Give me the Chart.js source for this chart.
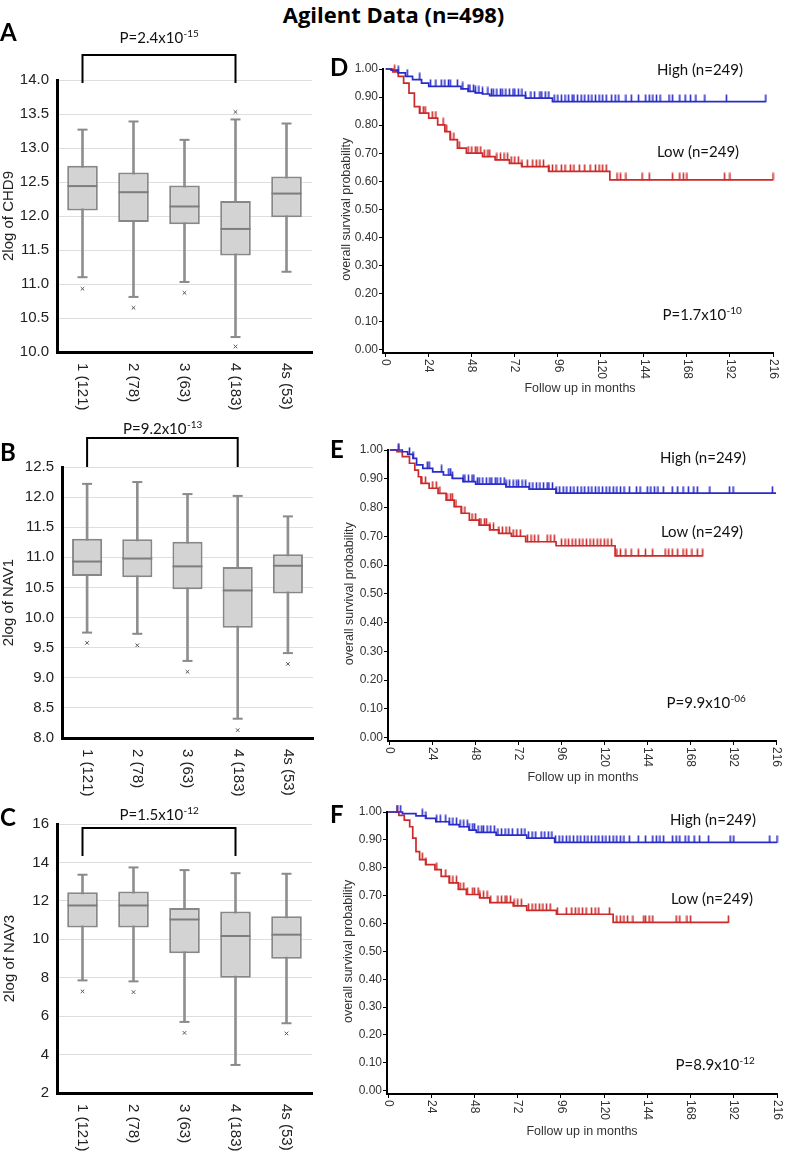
<!DOCTYPE html>
<html>
<head>
<meta charset="utf-8">
<script src="https://cdn.jsdelivr.net/npm/chart.js"></script>
<style>
body { margin:0; background:#fff; }
#page { position:relative; width:787px; height:1157px; overflow:hidden; background:#fff; }
canvas { position:absolute; }
.lbl { position:absolute; font-family:Lato, "Open Sans", sans-serif; font-weight:bold; color:#000; line-height:1; }
</style>
</head>
<body>
<div id="page">
  <div class="lbl" style="left:0;width:787px;top:3px;text-align:center;font-size:22px;font-family:'Open Sans',Lato,sans-serif;">Agilent Data (n=498)</div>
  <canvas id="boxA" width="330" height="420" style="left:0;top:0"></canvas>
  <canvas id="boxB" width="330" height="400" style="left:0;top:400px"></canvas>
  <canvas id="boxC" width="330" height="387" style="left:0;top:770px"></canvas>
  <canvas id="kmD" width="457" height="355" style="left:330px;top:40px"></canvas>
  <canvas id="kmE" width="457" height="375" style="left:330px;top:420px"></canvas>
  <canvas id="kmF" width="457" height="367" style="left:330px;top:790px"></canvas>
  <div class="lbl" style="left:0;top:20px;font-size:24px;">A</div>
  <div class="lbl" style="left:0;top:440px;font-size:24px;">B</div>
  <div class="lbl" style="left:0;top:805px;font-size:24px;">C</div>
  <div class="lbl" style="left:330px;top:55px;font-size:24px;">D</div>
  <div class="lbl" style="left:330px;top:437px;font-size:24px;">E</div>
  <div class="lbl" style="left:330px;top:802px;font-size:24px;">F</div>
</div>
<script>
// stages
const stageLabels = ['1 (121)', '2 (78)', '3 (63)', '4 (183)', '4s (53)'];

// CHD9
const chd9Low  = [11.10, 10.81, 11.03, 10.22, 11.18];
const chd9Q1   = [12.08, 11.91, 11.88, 11.42, 11.98];
const chd9Med  = [12.44, 12.35, 12.14, 11.81, 12.33];
const chd9Q3   = [12.74, 12.64, 12.45, 12.22, 12.58];
const chd9High = [13.27, 13.39, 13.12, 13.42, 13.36];
const chd9Out  = [[0, 10.93], [1, 10.65], [2, 10.87], [3, 10.08], [3, 13.53]];
const chd9Ticks = [10.0, 10.5, 11.0, 11.5, 12.0, 12.5, 13.0, 13.5, 14.0];

// NAV1
const nav1Low  = [9.75, 9.73, 9.28, 8.32, 9.41];
const nav1Q1   = [10.69, 10.67, 10.47, 9.83, 10.40];
const nav1Med  = [10.93, 10.98, 10.85, 10.45, 10.86];
const nav1Q3   = [11.31, 11.30, 11.26, 10.84, 11.05];
const nav1High = [12.22, 12.25, 12.05, 12.02, 11.68];
const nav1Out  = [[0, 9.58], [1, 9.54], [2, 9.10], [3, 8.13], [4, 9.23]];
const nav1Ticks = [8.0, 8.5, 9.0, 9.5, 10.0, 10.5, 11.0, 11.5, 12.0, 12.5];

// NAV3
const nav3Low  = [7.86, 7.81, 5.70, 3.46, 5.63];
const nav3Q1   = [10.61, 10.61, 9.27, 8.00, 8.99];
const nav3Med  = [11.76, 11.76, 11.03, 10.17, 10.24];
const nav3Q3   = [12.45, 12.49, 11.63, 11.44, 11.20];
const nav3High = [13.36, 13.74, 13.60, 13.44, 13.41];
const nav3Out  = [[0, 7.29], [1, 7.25], [2, 5.13], [4, 5.10]];
const nav3Ticks = [2, 4, 6, 8, 10, 12, 14, 16];

// survival axes
const kmMonths = [0, 24, 48, 72, 96, 120, 144, 168, 192, 216];
const kmProb = [0, 0.1, 0.2, 0.3, 0.4, 0.5, 0.6, 0.7, 0.8, 0.9, 1.0];

// D (CHD9) : [month, survival]
const dHighSteps = [[0,1.0],[3,0.996],[7,0.986],[11,0.974],[15,0.962],[20,0.95],[24,0.938],[42,0.929],[46,0.92],[50,0.915],[54,0.911],[58,0.905],[78,0.896],[93,0.884]];
const dHighEnd = 212;
const dHighCens = [7,12,19,25,28,31,33,35,36,40,43,46,47,49,50,52,54,57,59,60,62,64,65,67,69,71,72,74,76,78,81,83,86,87,89,91,94,96,98,100,102,104,105,107,109,111,113,115,117,119,121,123,126,128,130,134,137,141,145,147,149,151,153,158,160,164,167,170,173,178,190,212];
const dLowSteps = [[0,1.0],[4,0.99],[7,0.974],[10,0.95],[13,0.914],[16,0.866],[19,0.843],[24,0.825],[29,0.801],[33,0.777],[36,0.748],[40,0.718],[45,0.70],[54,0.688],[61,0.676],[69,0.664],[76,0.652],[91,0.635],[125,0.605]];
const dLowEnd = 216;
const dLowCens = [5,19,21,22,26,28,32,34,36,38,41,46,48,50,51,53,55,57,58,62,64,66,68,70,72,74,76,79,82,84,86,88,91,93,95,98,100,103,105,108,111,114,117,119,121,123,129,131,134,143,147,160,164,166,168,189,192,216];

// E (NAV1)
const eHighSteps = [[0,1.0],[7,0.994],[10,0.985],[13,0.971],[15,0.948],[18.5,0.936],[24,0.924],[30,0.913],[35,0.901],[41,0.89],[48,0.881],[65,0.872],[78,0.864],[93,0.85]];
const eHighEnd = 216;
const eHighCens = [5,11,13,21,22,29,33,34,35,41,42,44,46,47,49,50,52,54,56,57,59,60,62,64,65,67,69,71,72,74,76,78,80,82,84,86,88,89,91,93,95,97,99,101,103,105,107,109,111,113,115,117,119,121,123,125,127,129,131,134,138,140,144,146,148,150,153,158,161,164,167,170,172,179,190,192,214];
const eLowSteps = [[0,1.0],[4,0.994],[7,0.977],[11,0.954],[14,0.93],[16,0.907],[17.5,0.884],[22,0.867],[27,0.849],[31.5,0.826],[36,0.803],[40,0.78],[44.5,0.756],[50,0.739],[56,0.722],[61,0.71],[68,0.70],[76,0.681],[93,0.667],[126,0.632]];
const eLowEnd = 175;
const eLowCens = [5,18,20,24,26,28,32,34,35,37,40,42,46,48,50,51,53,54,56,58,61,63,65,67,69,71,73,77,79,81,83,88,90,92,96,98,100,102,104,106,108,110,112,114,116,118,120,122,124,127,129,132,135,139,143,147,154,156,158,161,164,166,169,172,175];

// F (NAV3)
const fHighSteps = [[0,1.0],[8,0.994],[15.5,0.986],[21,0.977],[26.5,0.965],[34,0.955],[39.5,0.947],[45,0.935],[49,0.927],[60,0.917],[77,0.906],[92.5,0.891]];
const fHighEnd = 216;
const fHighCens = [5,7,19,21,27,29,32,34,36,38,40,42,44,45,47,48,50,52,53,55,57,59,61,63,65,67,69,72,74,76,78,80,82,85,87,89,91,93,95,97,99,101,103,105,107,109,111,113,115,117,119,121,123,125,127,129,131,134,139,143,147,149,151,153,158,160,162,165,167,170,173,178,190,192,212,216];
const fLowSteps = [[0,1.0],[6,0.988],[9,0.971],[12,0.947],[13.7,0.906],[15.5,0.858],[17.5,0.829],[21,0.811],[26,0.793],[29.5,0.769],[34,0.746],[39,0.722],[43.5,0.704],[51,0.692],[56.5,0.675],[69.5,0.663],[77,0.647],[93.5,0.633],[125,0.604]];
const fLowEnd = 189;
const fLowCens = [5,19,21,27,32,34,36,38,40,42,44,47,48,50,51,53,55,57,61,63,65,66,68,70,72,74,78,80,82,84,86,88,90,94,99,102,104,106,108,110,113,115,117,123,127,129,131,133,136,142,143,145,147,160,162,166,168,189];

const AXIS_FONT = '"Liberation Sans", Arial, sans-serif';
const NOTE_FONT = 'Lato, "Open Sans", sans-serif';

function drawP(ctx, base, exp, cx, y, size) {
  ctx.font = size + 'px ' + NOTE_FONT;
  const w1 = ctx.measureText(base).width;
  ctx.font = Math.round(size * 0.68) + 'px ' + NOTE_FONT;
  const w2 = ctx.measureText(exp).width;
  const x0 = cx - (w1 + w2) / 2;
  ctx.textAlign = 'left';
  ctx.textBaseline = 'alphabetic';
  ctx.font = size + 'px ' + NOTE_FONT;
  ctx.fillText(base, x0, y);
  ctx.font = Math.round(size * 0.68) + 'px ' + NOTE_FONT;
  ctx.fillText(exp, x0 + w1 + 0.5, y - size * 0.42);
}

const boxExtras = {
  id: 'boxExtras',
  afterDraw(chart, args, o) {
    const {ctx, chartArea: a, scales: {x}} = chart;
    ctx.save();
    ctx.fillStyle = '#222';
    ctx.font = '15px ' + AXIS_FONT;
    stageLabels.forEach((lab, i) => {
      ctx.save();
      ctx.translate(x.getPixelForValue(i), a.bottom + 11);
      ctx.rotate(Math.PI / 2);
      ctx.textAlign = 'left';
      ctx.textBaseline = 'middle';
      ctx.fillText(lab, 0, 0);
      ctx.restore();
    });
    ctx.save();
    ctx.translate(o.titleX, (a.top + a.bottom) / 2);
    ctx.rotate(-Math.PI / 2);
    ctx.textAlign = 'center';
    ctx.textBaseline = 'middle';
    ctx.fillText(o.title, 0, 0);
    ctx.restore();
    // bracket 1 vs 4
    const x1 = x.getPixelForValue(0), x2 = x.getPixelForValue(3);
    const bt = a.top + o.brTop, bb = a.top + o.brBot;
    ctx.strokeStyle = '#000';
    ctx.lineWidth = 2;
    ctx.beginPath();
    ctx.moveTo(x1, bb); ctx.lineTo(x1, bt); ctx.lineTo(x2, bt); ctx.lineTo(x2, bb);
    ctx.stroke();
    ctx.fillStyle = '#111';
    drawP(ctx, o.p, o.exp, (x1 + x2) / 2, bt - o.pGap, 15);
    ctx.restore();
  }
};

function boxChart(id, o) {
  const cap = {type: 'line', showLine: false, pointStyle: 'line', pointRadius: 5, pointHoverRadius: 5,
               pointBorderWidth: 2, pointBorderColor: '#8a8a8a', borderColor: '#8a8a8a'};
  new Chart(document.getElementById(id), {
    type: 'bar',
    data: {
      labels: stageLabels,
      datasets: [
        {type: 'line', data: o.med, showLine: false, pointStyle: 'line', pointRadius: 15, pointHoverRadius: 15,
         pointBorderWidth: 2, pointBorderColor: '#7d7d7d', borderColor: '#7d7d7d'},
        {type: 'line', data: o.out.map(p => ({x: stageLabels[p[0]], y: p[1]})), showLine: false,
         pointStyle: 'crossRot', pointRadius: 2.5, pointBorderWidth: 1, pointBorderColor: '#555', borderColor: '#555'},
        Object.assign({data: o.high}, cap),
        Object.assign({data: o.low}, cap),
        {type: 'bar', data: o.q1.map((v, i) => [v, o.q3[i]]), backgroundColor: '#d3d3d3', borderColor: '#878787',
         borderWidth: 2, borderSkipped: false, barPercentage: 0.6, categoryPercentage: 1, grouped: false},
        {type: 'bar', data: o.low.map((v, i) => [v, o.high[i]]), backgroundColor: '#8f8f8f',
         barThickness: 2, grouped: false}
      ]
    },
    options: {
      responsive: false, animation: false, devicePixelRatio: 1,
      layout: {padding: {top: o.padTop, right: o.padRight, left: 0, bottom: 0}},
      plugins: {legend: {display: false}, tooltip: {enabled: false},
        boxExtras: {title: o.title, titleX: o.titleX, p: o.p, exp: o.exp, brTop: o.brTop, brBot: o.brBot, pGap: o.pGap}},
      scales: {
        x: {grid: {display: false}, border: {color: '#000', width: 3}, ticks: {display: false},
            afterFit: s => { s.height = o.xH; }},
        y: {min: o.ticks[0], max: o.ticks[o.ticks.length - 1],
            afterBuildTicks: s => { s.ticks = o.ticks.map(v => ({value: v})); },
            ticks: {callback: v => v.toFixed(o.dec), font: {family: AXIS_FONT, size: 15}, color: '#222', padding: 8},
            grid: {color: '#dedede', drawTicks: false}, border: {color: '#000', width: 3},
            afterFit: s => { s.width = o.axisX; }}
      }
    },
    plugins: [boxExtras]
  });
}

boxChart('boxA', {low: chd9Low, q1: chd9Q1, med: chd9Med, q3: chd9Q3, high: chd9High, out: chd9Out,
  ticks: chd9Ticks, dec: 1, title: '2log of CHD9', titleX: 9, p: 'P=2.4x10', exp: '-15',
  padTop: 80, padRight: 18, xH: 68, axisX: 57, brTop: -25, brBot: 3, pGap: 12});
boxChart('boxB', {low: nav1Low, q1: nav1Q1, med: nav1Med, q3: nav1Q3, high: nav1High, out: nav1Out,
  ticks: nav1Ticks, dec: 1, title: '2log of NAV1', titleX: 9, p: 'P=9.2x10', exp: '-13',
  padTop: 67, padRight: 17, xH: 62, axisX: 62, brTop: -29, brBot: 0, pGap: 4});
boxChart('boxC', {low: nav3Low, q1: nav3Q1, med: nav3Med, q3: nav3Q3, high: nav3High, out: nav3Out,
  ticks: nav3Ticks, dec: 0, title: '2log of NAV3', titleX: 10, p: 'P=1.5x10', exp: '-12',
  padTop: 54, padRight: 18, xH: 64, axisX: 57, brTop: 4, brBot: 32, pGap: 8});

// survival curves
function stepAt(steps, t) {
  let s = steps[0][1];
  steps.forEach(p => { if (p[0] <= t) s = p[1]; });
  return s;
}
function censorMark(col) {
  const c = document.createElement('canvas');
  c.width = 3; c.height = 15;
  const g = c.getContext('2d');
  g.strokeStyle = col; g.lineWidth = 1.6;
  g.beginPath(); g.moveTo(1.5, 0.5); g.lineTo(1.5, 8); g.stroke();
  return c;
}

const kmExtras = {
  id: 'kmExtras',
  afterDraw(chart, args, o) {
    const {ctx, chartArea: a, scales: {x, y}} = chart;
    ctx.save();
    ctx.fillStyle = '#333';
    ctx.font = '12px ' + AXIS_FONT;
    kmMonths.forEach(m => {
      ctx.save();
      ctx.translate(x.getPixelForValue(m), a.bottom + 6);
      ctx.rotate(Math.PI / 2);
      ctx.textAlign = 'left';
      ctx.textBaseline = 'middle';
      ctx.fillText(String(m), 0, 0);
      ctx.restore();
    });
    ctx.textAlign = 'center';
    ctx.textBaseline = 'middle';
    ctx.font = '12.5px ' + AXIS_FONT;
    ctx.fillText('Follow up in months', o.xTitle[0], o.xTitle[1]);
    ctx.save();
    ctx.translate(o.yTitleX, (y.getPixelForValue(0) + y.getPixelForValue(1)) / 2);
    ctx.rotate(-Math.PI / 2);
    ctx.fillText('overall survival probability', 0, 0);
    ctx.restore();
    ctx.fillStyle = '#111';
    ctx.font = '15px ' + NOTE_FONT;
    ctx.fillText('High (n=249)', o.high[0], o.high[1]);
    ctx.fillText('Low (n=249)', o.low[0], o.low[1]);
    drawP(ctx, o.p, o.exp, o.pPos[0], o.pPos[1], 15);
    ctx.restore();
  }
};

const BLUE = '#2a2cc8';
const RED = '#cc2a2a';

function kmChart(id, o) {
  const line = (steps, end, col) => ({
    data: steps.map(p => ({x: p[0], y: p[1]})).concat([{x: end, y: steps[steps.length - 1][1]}]),
    stepped: true, pointRadius: 0, borderColor: col, borderWidth: 1.7, clip: false
  });
  const cens = (steps, times, col) => ({
    data: times.map(t => ({x: t, y: stepAt(steps, t)})), showLine: false,
    pointStyle: censorMark(col), pointRadius: 6, pointHoverRadius: 6, clip: false
  });
  new Chart(document.getElementById(id), {
    type: 'line',
    data: {
      datasets: [
        cens(o.hs, o.hc, BLUE), cens(o.ls, o.lc, RED),
        line(o.hs, o.he, BLUE), line(o.ls, o.le, RED)
      ]
    },
    options: {
      responsive: false, animation: false, devicePixelRatio: 1,
      layout: {padding: {top: o.padTop, right: o.padRight, left: 0, bottom: 0}},
      plugins: {legend: {display: false}, tooltip: {enabled: false},
        kmExtras: {xTitle: o.xTitle, yTitleX: o.yTitleX, high: o.high, low: o.low, p: o.p, exp: o.exp, pPos: o.pPos}},
      scales: {
        x: {type: 'linear', min: o.xMin, max: 216,
            afterBuildTicks: s => { s.ticks = kmMonths.map(v => ({value: v})); },
            ticks: {display: false},
            grid: {drawOnChartArea: false, drawTicks: true, tickLength: 4, color: '#000'},
            border: {color: '#000', width: 2},
            afterFit: s => { s.height = o.xH; }},
        y: {min: -0.012, max: 1,
            afterBuildTicks: s => { s.ticks = kmProb.map(v => ({value: v})); },
            ticks: {callback: v => v.toFixed(2), font: {family: AXIS_FONT, size: 12}, color: '#333', padding: 1},
            grid: {drawOnChartArea: false, drawTicks: true, tickLength: 4, color: '#000'},
            border: {color: '#000', width: 2},
            afterFit: s => { s.width = o.axisX; }}
      }
    },
    plugins: [kmExtras]
  });
}

kmChart('kmD', {hs: dHighSteps, he: dHighEnd, hc: dHighCens, ls: dLowSteps, le: dLowEnd, lc: dLowCens,
  xMin: -1.5, padTop: 29, padRight: 14, xH: 42, axisX: 53,
  xTitle: [250, 349], yTitleX: 17, high: [370, 30], low: [368, 112], p: 'P=1.7x10', exp: '-10', pPos: [372, 280]});
kmChart('kmE', {hs: eHighSteps, he: eHighEnd, hc: eHighCens, ls: eLowSteps, le: eLowEnd, lc: eLowCens,
  xMin: -1, padTop: 30, padRight: 11, xH: 54, axisX: 58,
  xTitle: [253, 358], yTitleX: 20, high: [373, 38], low: [372, 112], p: 'P=9.9x10', exp: '-06', pPos: [376, 288]});
kmChart('kmF', {hs: fHighSteps, he: fHighEnd, hc: fHighCens, ls: fLowSteps, le: fLowEnd, lc: fLowCens,
  xMin: -0.6, padTop: 22, padRight: 10, xH: 63, axisX: 57,
  xTitle: [252, 342], yTitleX: 19, high: [383, 30], low: [382, 109], p: 'P=8.9x10', exp: '-12', pPos: [385, 280]});
</script>
</body>
</html>
